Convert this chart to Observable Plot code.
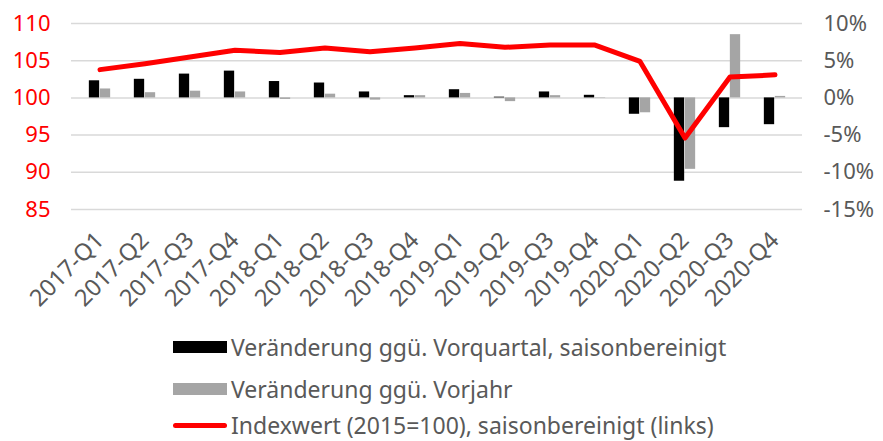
<!DOCTYPE html>
<html><head><meta charset="utf-8">
<script src="https://cdn.jsdelivr.net/npm/d3@7"></script>
<script src="https://cdn.jsdelivr.net/npm/@observablehq/plot@0.6"></script>
<style>
body{margin:0;background:#fff;font-family:"Noto Sans",sans-serif;}
#wrap{position:relative;width:883px;height:441px;overflow:hidden;}
.leg{position:absolute;left:173px;height:26px;display:flex;align-items:center;font-size:23px;line-height:1;color:#595959;white-space:nowrap;}
.sw{display:inline-block;width:54px;margin-right:4px;}
#chart svg g[aria-label="x-axis tick label"], #chart svg g[aria-label="x-axis tick label"] text{font-size:23.5px !important;}
</style></head><body>
<div id="wrap"><div id="chart"></div></div>
<script>
const quarters = ["2017-Q1","2017-Q2","2017-Q3","2017-Q4","2018-Q1","2018-Q2","2018-Q3","2018-Q4",
                  "2019-Q1","2019-Q2","2019-Q3","2019-Q4","2020-Q1","2020-Q2","2020-Q3","2020-Q4"];
// Veränderung ggü. Vorquartal, saisonbereinigt (%)
const qoq = [2.3, 2.5, 3.2, 3.6, 2.2, 2.0, 0.8, 0.3, 1.1, 0.1, 0.8, 0.35, -2.2, -11.2, -4.0, -3.6];
// Veränderung ggü. Vorjahr (%)
const yoy = [1.2, 0.7, 0.9, 0.8, -0.2, 0.5, -0.3, 0.3, 0.6, -0.5, 0.3, 0.05, -2.0, -9.6, 8.5, 0.2];
// Indexwert (2015=100), saisonbereinigt
const indexValues = [103.8, 104.6, 105.5, 106.4, 106.1, 106.7, 106.2, 106.7, 107.3, 106.8, 107.1, 107.1, 104.9, 94.6, 102.8, 103.1];
const leftTickLabels = [85, 90, 95, 100, 105, 110];
const rightTicks = [-15, -10, -5, 0, 5, 10];
const seriesNames = ["Veränderung ggü. Vorquartal, saisonbereinigt", "Veränderung ggü. Vorjahr", "Indexwert (2015=100), saisonbereinigt (links)"];
const seriesColors = ["#000000", "#a5a5a5", "#ff0000"];

const qoqRows = quarters.map((q, i) => ({quarter: q, value: qoq[i]}));
const yoyRows = quarters.map((q, i) => ({quarter: q, value: yoy[i]}));
const idxRows = quarters.map((q, i) => ({quarter: q, index: indexValues[i]}));

const W = 883, ML = 71, MR = 81;
const band = (W - ML - MR) / quarters.length;
const barW = 11;

const plot = Plot.plot({
  width: W,
  height: 320,
  marginTop: 23,
  marginBottom: 111,
  marginLeft: ML,
  marginRight: MR,
  style: {fontFamily: "'Noto Sans', sans-serif", background: "#fff"},
  x: {type: "band", domain: quarters, padding: 0},
  y: {domain: [-15, 10]},
  marks: [
    Plot.gridY(rightTicks, {stroke: "#d9d9d9", strokeOpacity: 1, strokeWidth: 1.5}),
    Plot.barY(qoqRows, {x: "quarter", y: "value", fill: seriesColors[0],
      insetLeft: band / 2 - barW, insetRight: band / 2}),
    Plot.barY(yoyRows, {x: "quarter", y: "value", fill: seriesColors[1],
      insetLeft: band / 2, insetRight: band / 2 - barW}),
    Plot.line(idxRows, {x: "quarter", y: d => d.index - 100, stroke: seriesColors[2],
      strokeWidth: 5, strokeLinecap: "round", strokeLinejoin: "round"}),
    Plot.axisY(rightTicks, {anchor: "left", tickSize: 0, tickPadding: 21, label: null,
      tickFormat: d => String(leftTickLabels[rightTicks.indexOf(d)]), color: "#ff0000", fontSize: 22}),
    Plot.axisY(rightTicks, {anchor: "right", tickSize: 0, tickPadding: 21, label: null,
      tickFormat: d => d + "%", color: "#595959", fontSize: 22}),
    Plot.axisX({tickSize: 0, tickPadding: 27, tickRotate: -45, label: null,
      color: "#595959", fontSize: 23.5})
  ]
});
const wrap = document.getElementById("wrap");
document.getElementById("chart").appendChild(plot);

const legCenters = [347, 389, 425];
seriesNames.forEach((name, i) => {
  const row = document.createElement("div");
  row.className = "leg";
  row.style.top = (legCenters[i] - 13) + "px";
  const sw = document.createElement("span");
  sw.className = "sw";
  sw.style.background = seriesColors[i];
  if (i < 2) { sw.style.height = "12px"; }
  else { sw.style.height = "5px"; sw.style.borderRadius = "3px"; }
  row.appendChild(sw);
  const t = document.createElement("span");
  t.textContent = name;
  row.appendChild(t);
  wrap.appendChild(row);
});
</script>
</body></html>
